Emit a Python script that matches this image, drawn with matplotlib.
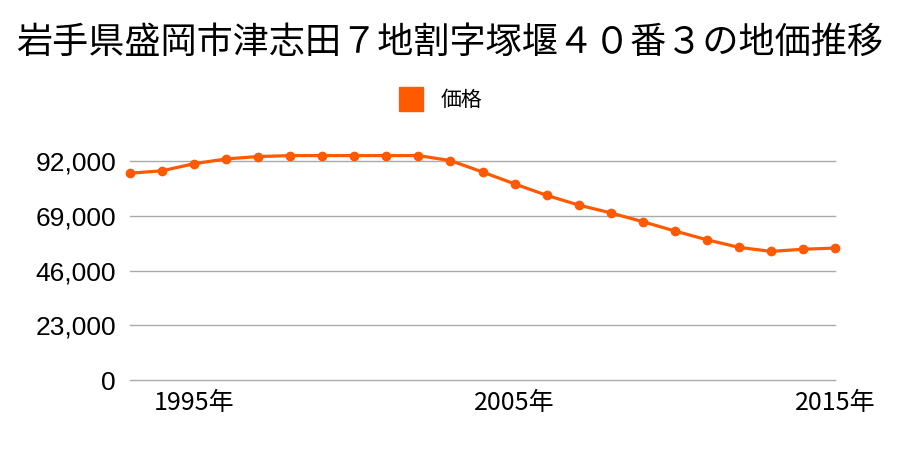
import matplotlib
matplotlib.use('Agg')
import matplotlib.pyplot as plt
from matplotlib.lines import Line2D

plt.rcParams['font.family'] = ['Noto Sans CJK JP', 'DejaVu Sans']

years = list(range(1993, 2016))
prices = [87000, 88000, 91000, 93000, 94000, 94400, 94400, 94400, 94400, 94400,
          92300, 87500, 82500, 77700, 73600, 70300, 66600, 62700, 59000, 55800,
          54100, 55000, 55500]
y_ticks = [0, 23000, 46000, 69000, 92000]
x_ticks = [1995, 2005, 2015]
title = '岩手県盛岡市津志田７地割字塚堰４０番３の地価推移'
legend_label = '価格'
color = '#ff5a00'

fig = plt.figure(figsize=(9, 4.5), dpi=100)
ax = fig.add_axes([130 / 900, 70 / 450, 705 / 900, 218.7 / 450])

ax.plot(years, prices, color=color, lw=2.3, marker='o', markersize=6,
        clip_on=False, zorder=3)

ax.set_xlim(1993, 2015)
ax.set_ylim(0, 92000)
for t in y_ticks:
    ax.axhline(t, color='#aaaaaa', lw=1, zorder=1, clip_on=False)
for s in ax.spines.values():
    s.set_visible(False)
ax.tick_params(axis='both', length=0)
ax.tick_params(axis='y', pad=10)
ax.tick_params(axis='x', pad=7)
ax.set_yticks(y_ticks)
ax.set_yticklabels([f'{v:,}' for v in y_ticks], fontfamily='Liberation Sans', fontsize=19)
ax.set_xticks(x_ticks)
ax.set_xticklabels([f'{x}年' for x in x_ticks], fontsize=18)

fig.text(0.5, 1 - 43 / 450, title, ha='center', va='center', fontsize=26)

handle = Line2D([], [], color=color, marker='s', linestyle='none', markersize=17)
fig.legend([handle], [legend_label], loc='center', bbox_to_anchor=(0.485, 1 - 100 / 450),
           frameon=False, fontsize=15, handletextpad=0.4)

fig.savefig('out.png', dpi=100)
